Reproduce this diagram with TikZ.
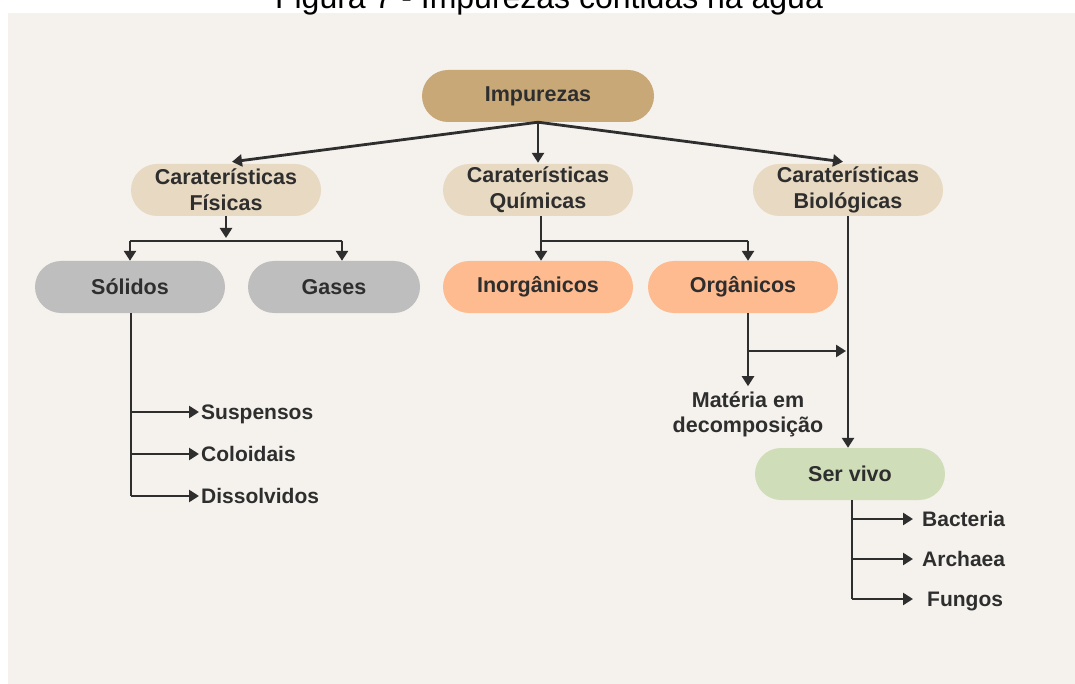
\documentclass[tikz,border=0pt]{standalone}
\usepackage{fontspec}
\setmainfont{Liberation Sans}
\usetikzlibrary{arrows.meta,calc}
\definecolor{paper}{HTML}{F5F2ED}
\definecolor{ink}{HTML}{2E2E2E}
\definecolor{rootfill}{HTML}{C9A877}
\definecolor{catfill}{HTML}{E8D9C2}
\definecolor{grayfill}{HTML}{BEBEBE}
\definecolor{orangefill}{HTML}{FDBB8F}
\definecolor{greenfill}{HTML}{CFDDB9}
\begin{document}
\begin{tikzpicture}[x=1pt,y=-1pt,
  pill/.style={rounded corners=26pt, minimum height=52pt, minimum width=190pt,
    inner sep=0pt, align=center, text=ink,
    font=\bfseries\fontsize{21.5}{26}\selectfont},
  link/.style={line width=2.8pt, draw=ink},
  arr/.style={link, -{Triangle[length=10pt,width=12pt]}},
  leaf/.style={font=\bfseries\fontsize{21}{26}\selectfont, text=ink,
    inner xsep=2pt, inner ysep=0pt, text height=15pt, text depth=0pt, anchor=west}]
\useasboundingbox (0,0) rectangle (1075,684);
\clip (0,0) rectangle (1075,684);

% panel and caption
\fill[paper] (8,13) rectangle (1075,684);
\node[font=\fontsize{32}{36}\selectfont, anchor=base, text=black, inner sep=0pt]
  (title) at (549,9) {Figura 7 - Impurezas contidas na água};

% boxes
\node[pill, fill=rootfill, minimum width=232pt] (imp) at (538,96) {Impurezas};
\node[pill, fill=catfill] (fis) at (226,190) {Caraterísticas\\Físicas};
\node[pill, fill=catfill] (qui) at (538,190) {Caraterísticas\\Químicas};
\node[pill, fill=catfill] (bio) at (848,190) {Caraterísticas\\Biológicas};
\node[pill, fill=grayfill] (sol) at (130,287) {Sólidos};
\node[pill, fill=grayfill, minimum width=172pt] (gas) at (334,287) {Gases};
\node[pill, fill=orangefill] (ino) at (538,287) {Inorgânicos};
\node[pill, fill=orangefill] (org) at (743,287) {Orgânicos};
\node[pill, fill=greenfill] (ser) at (850,474) {Ser vivo};

\node[font=\bfseries\fontsize{21.5}{25}\selectfont, text=ink, align=center, inner sep=0pt]
  (mat) at (748,414) {Matéria em\\decomposição};

\node[leaf] (sus) at (199,412) {Suspensos};
\node[leaf] (col) at (199,454) {Coloidais};
\node[leaf] (dis) at (199,496) {Dissolvidos};
\node[leaf] (bac) at (913,519) {\hspace{7pt}Bacteria};
\node[leaf] (arc) at (913,559) {\hspace{7pt}Archaea};
\node[leaf] (fun) at (913,599) {\hspace{12pt}Fungos};

% junction points
\coordinate (fisbar) at (226,241);
\coordinate (solbar) at (130,241);
\coordinate (gasbar) at (342,241);
\coordinate (quibar) at (541,241);
\coordinate (orgbar) at (748,241);
\coordinate (orgjoin) at (748,351);
\coordinate (biojoin) at (848,351);
\coordinate (solend) at (131,496);
\coordinate (serend) at (852,599);

% root to categories
\draw[arr] (imp.south) -- ($(fis.north)+(6,-2)$);
\draw[arr] (imp.south) -- ($(qui.north)+(0,-1)$);
\draw[arr] (imp.south) -- ($(bio.north)+(-5,-2)$);

% physical branch
\draw[arr] (fis.south) -- ($(fisbar)+(0,-3)$);
\draw[link] (solbar) -- (gasbar);
\draw[arr] (solbar) -- (sol.north);
\draw[arr] (gasbar) -- (gasbar |- gas.north);

% chemical branch
\draw[arr] (qui.south -| quibar) -- (quibar |- ino.north);
\draw[link] (quibar) -- (orgbar);
\draw[arr] (orgbar) -- (orgbar |- org.north);
\draw[arr] (org.south -| orgbar) -- ($(mat.north -| orgbar)+(0,-5)$);
\draw[arr] (orgjoin) -- ($(biojoin)+(-2,0)$);

% biological branch
\draw[arr] (bio.south) -- (bio.south |- ser.north);

% solids subtypes
\draw[link] (sol.south -| solend) -- (solend);
\draw[arr] (sus.west -| solend) -- (sus.west);
\draw[arr] (col.west -| solend) -- (col.west);
\draw[arr] (solend) -- (dis.west);

% living beings subtypes
\draw[link] (ser.south -| serend) -- (serend);
\draw[arr] (bac.west -| serend) -- (bac.west);
\draw[arr] (arc.west -| serend) -- (arc.west);
\draw[arr] (serend) -- (fun.west);
\end{tikzpicture}
\end{document}
